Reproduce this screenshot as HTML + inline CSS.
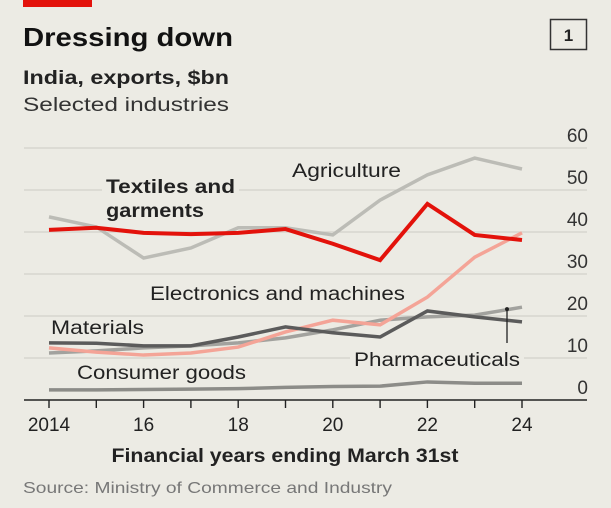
<!DOCTYPE html>
<html><head><meta charset="utf-8"><style>
html,body{margin:0;padding:0;background:#ecebe4;}
svg{display:block;font-family:"Liberation Sans",sans-serif;}
</style></head><body>
<svg id="c" width="611" height="508" viewBox="0 0 611 508">
<rect x="0" y="0" width="611" height="508" fill="#ecebe4"/>
<rect x="23" y="0" width="69" height="7" fill="#e3120b"/>
<text x="23" y="46" font-size="26" font-weight="bold" fill="#121212" textLength="210" lengthAdjust="spacingAndGlyphs">Dressing down</text>
<rect x="550.5" y="19.5" width="36" height="30" fill="none" stroke="#333" stroke-width="1.5"/>
<text x="568.5" y="41" font-size="17" font-weight="bold" text-anchor="middle" fill="#222">1</text>
<text x="23" y="84" font-size="19" font-weight="bold" fill="#222" textLength="206" lengthAdjust="spacingAndGlyphs">India, exports, $bn</text>
<text x="23" y="111" font-size="19" fill="#333" textLength="206" lengthAdjust="spacingAndGlyphs">Selected industries</text>
<g id="grid"></g>
<g id="lines"></g>
<g id="labels"></g>
<text x="285" y="462" font-size="19" font-weight="bold" fill="#222" text-anchor="middle" textLength="347" lengthAdjust="spacingAndGlyphs">Financial years ending March 31st</text>
<text x="23" y="493" font-size="16" fill="#777" textLength="369" lengthAdjust="spacingAndGlyphs">Source: Ministry of Commerce and Industry</text>
</svg>
<script>
const years=[2014,2015,2016,2017,2018,2019,2020,2021,2022,2023,2024];
const yTicks=[0,10,20,30,40,50,60];
const xTickLabels=["2014","16","18","20","22","24"];
const xTickYears=[2014,2016,2018,2020,2022,2024];
const textiles=[40.5,41,39.8,39.5,39.8,40.7,37.2,33.3,46.7,39.3,38.1];
const agriculture=[43.6,41.2,33.8,36.2,41,41,39.3,47.6,53.6,57.6,55];
const electronics=[12.4,11.4,10.7,11.2,12.6,16.2,19,17.9,24.5,34,39.8];
const materials=[13.6,13.5,12.9,12.9,15,17.4,16,15,21.2,19.8,18.6];
const pharma=[11.2,11.7,12.4,12.9,13.6,14.8,16.7,19,19.8,20.2,22.1];
const consumer=[2.4,2.4,2.5,2.6,2.7,3,3.2,3.3,4.3,4,4];
const NS="http://www.w3.org/2000/svg";
function x(yr){return 49+47.3*(yr-2014);}
function y(v){return 400-4.2*v;}
function mk(tag,attrs,parent){const e=document.createElementNS(NS,tag);for(const k in attrs)e.setAttribute(k,attrs[k]);parent.appendChild(e);return e;}
const grid=document.getElementById('grid'),lines=document.getElementById('lines'),labels=document.getElementById('labels');
yTicks.forEach(v=>{
  if(v>0){const g=mk('line',{x1:24,x2:587,y1:y(v),y2:y(v),stroke:'#d2d1cb','stroke-width':1.2},grid);
  
  }
  const t=mk('text',{x:588,y:y(v)-6,'font-size':19,'text-anchor':'end',fill:'#333'},grid);
  t.textContent=v;
  
  
});
const base=mk('line',{x1:24,x2:587,y1:400,y2:400,stroke:'#222','stroke-width':1.6},grid);


years.forEach(yr=>{
  const tk=mk('line',{x1:x(yr),x2:x(yr),y1:400,y2:408,stroke:'#222','stroke-width':1.4},grid);
  
  
});
xTickYears.forEach((yr,i)=>{
  const t=mk('text',{x:x(yr),y:431,'font-size':19,'text-anchor':'middle',fill:'#222'},grid);
  t.textContent=xTickLabels[i];
  
  
});
function label(txt,lx,ly,len,bold,name){
  const bb=mk('rect',{x:lx-4,y:ly-16,width:len+8,height:21,fill:'#ecebe4'},labels);
  
  
  const t=mk('text',{x:lx,y:ly,'font-size':19,fill:'#222',textLength:len,lengthAdjust:'spacingAndGlyphs','font-weight':bold?'bold':'normal'},labels);
  t.textContent=txt;
  
  
}
label('Agriculture',292,177,109,false,'label-agriculture');
label('Textiles and',106,193,129,true,'label-textiles');
label('garments',106,217,98,true,'label-garments');
label('Electronics and machines',150,300,255,false,'label-electronics');
label('Materials',51,334,93,false,'label-materials');
label('Pharmaceuticals',354,366,166,false,'label-pharmaceuticals');
label('Consumer goods',77,379,169,false,'label-consumer-goods');
function series(vals,color,w,name){
  const p=mk('polyline',{points:vals.map((v,i)=>x(years[i])+','+y(v)).join(' '),fill:'none',stroke:color,'stroke-width':w,'stroke-linejoin':'miter'},lines);
  
  
}
series(consumer,'#8c8c88',3.5,'line-consumer-goods');
series(agriculture,'#bcbcb6',3.5,'line-agriculture');
series(pharma,'#a2a29e',3.5,'line-pharmaceuticals');
series(electronics,'#f4a497',3.5,'line-electronics');
series(materials,'#5b5b5b',3.5,'line-materials');
series(textiles,'#e3120b',4,'line-textiles');
const ax=x(2024)-15;
const al=mk('line',{x1:ax,x2:ax,y1:y(pharma[10])+2,y2:343,stroke:'#222','stroke-width':1.3},labels);


const ad=mk('circle',{cx:ax,cy:y(pharma[10])+2,r:2,fill:'#222'},labels);


</script>
</body></html>
